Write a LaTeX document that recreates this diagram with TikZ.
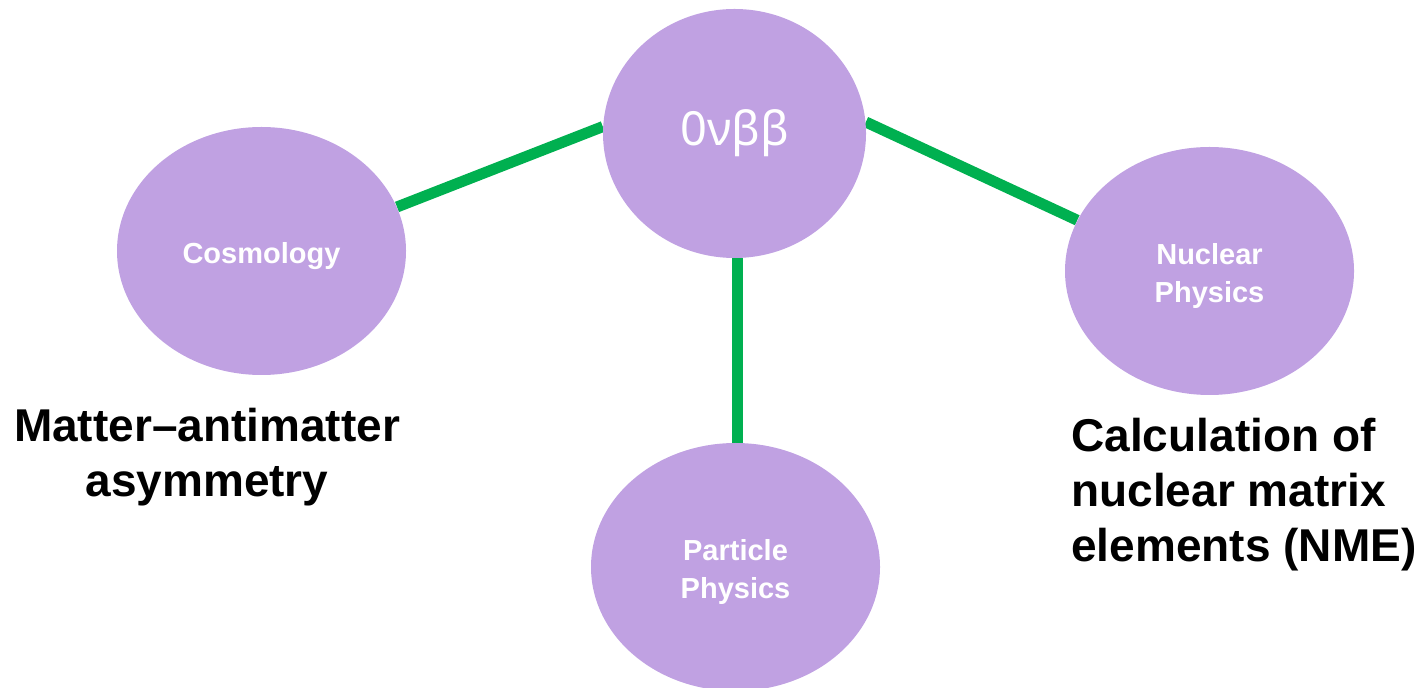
\documentclass[tikz,border=0pt]{standalone}
\usepackage{fontspec}
\setmainfont{Liberation Sans}
\newfontfamily\notofont{Noto Sans}
\usetikzlibrary{shapes.geometric}
\definecolor{bubble}{RGB}{192,161,226}
\definecolor{linkgreen}{RGB}{0,176,80}
\pgfdeclarelayer{bg}
\pgfsetlayers{bg,main}
\tikzset{
  bubble/.style={ellipse, fill=bubble, draw=none, inner sep=0pt,
    minimum width=144.5pt, minimum height=124pt},
  bubbletext/.style={inner sep=0pt, text=white, align=center, yshift=-2.5pt,
    font=\bfseries\fontsize{14.5pt}{19pt}\selectfont},
  hub/.style={bubble, minimum width=131.5pt, minimum height=124.5pt, text=white,
    font=\notofont\fontsize{23.5pt}{28pt}\selectfont},
  link/.style={draw=linkgreen, line width=5.5pt},
  note/.style={inner sep=0pt, text=black, font=\bfseries\fontsize{23pt}{27.5pt}\selectfont}
}
\begin{document}
\begin{tikzpicture}[x=0.5pt, y=-0.5pt]
  \useasboundingbox (0,0) rectangle (1422,688);
  % topic bubbles
  \node[hub] (hub) at (734.5,133.5) {0νββ};
  \node[bubble, label={[bubbletext]center:Cosmology}] (cos) at (261.5,251) {};
  \node[bubble, label={[bubbletext]center:Nuclear\\Physics}] (nuc) at (1209.5,271) {};
  \node[bubble, label={[bubbletext]center:Particle\\Physics}] (part) at (735.5,567) {};
  % connectors behind the bubbles
  \begin{pgfonlayer}{bg}
    \draw[link] (cos.18) -- (hub.177);
    \draw[link] (hub.5) -- (nuc.159);
    \draw[link] ([xshift=1.25pt]hub.south) -- ([xshift=0.75pt]part.north);
  \end{pgfonlayer}
  % notes under the side bubbles (anchored at the last baseline)
  \node[note, align=center, anchor=base] (asym) at (207,497) {Matter–antimatter\\asymmetry};
  \node[note, align=left, anchor=base west] (nme) at (1071,561.7) {Calculation of\\nuclear matrix\\elements (NME)};
\end{tikzpicture}
\end{document}
